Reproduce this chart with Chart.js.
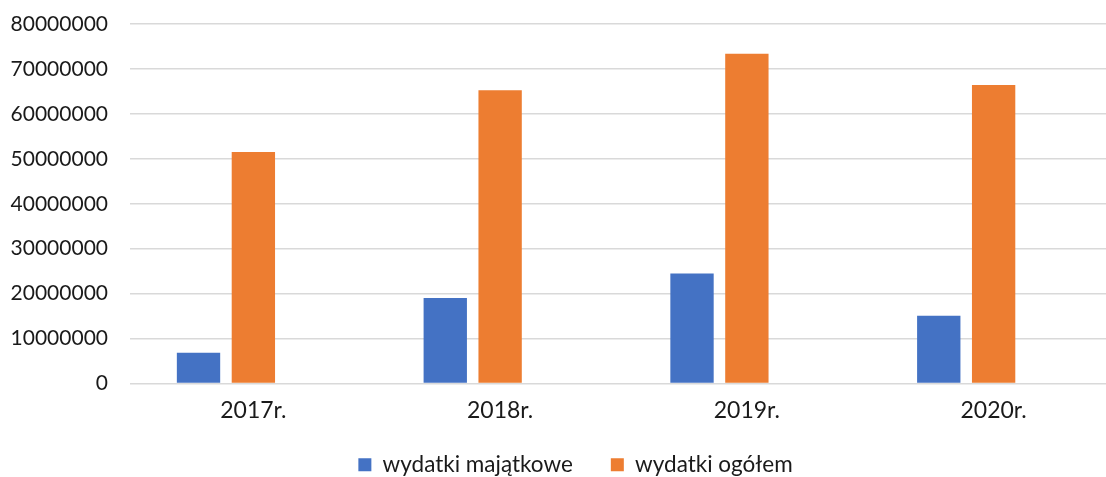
<!DOCTYPE html>
<html>
<head>
<meta charset="utf-8">
<script src="https://cdn.jsdelivr.net/npm/chart.js@4/dist/chart.umd.min.js"></script>
<style>
  html, body { margin: 0; padding: 0; background: #fff; overflow: hidden; }
  #wrap { width: 1106px; height: 477px; overflow: hidden; }
</style>
</head>
<body>
<div id="wrap"><canvas id="bar-chart" width="1117" height="495"></canvas></div>
<script>
// values
var years = ['2017r.', '2018r.', '2019r.', '2020r.'];
var majatkowe = [6850000, 19000000, 24500000, 15100000];
var ogolem = [51500000, 65250000, 73400000, 66400000];
var yTicks = [0, 10000000, 20000000, 30000000, 40000000, 50000000, 60000000, 70000000, 80000000];

var tickFont = { family: 'Lato', size: 21 };
var textFont = { family: 'Lato', size: 23 };
var legendFont = { family: 'Lato', size: 22.5 };

// the original chart was cropped on the right, so its legend sits a bit right of centre
var legendNudge = {
    id: 'legendNudge',
    afterLayout: function (chart) {
        var lg = chart.legend;
        lg.left += 17; lg.right += 17;
        lg.top -= 9; lg.bottom -= 9;
    }
};

new Chart(document.getElementById("bar-chart"), {
    type: 'bar',
    data: {
        labels: years,
        datasets: [{
            label: 'wydatki majątkowe',
            data: majatkowe,
            backgroundColor: "#4472c4"
        }, {
            label: 'wydatki ogółem',
            data: ogolem,
            backgroundColor: "#ed7d31"
        }, {
            // empty third series in the original sheet, keeps the bars off-centre
            label: '',
            data: years.map(function () { return null; }),
            backgroundColor: "#a5a5a5"
        }]
    },
    plugins: [legendNudge],
    options: {
        responsive: false,
        animation: false,
        layout: { padding: { top: 24, right: 0, left: 0, bottom: 0 } },
        datasets: {
            bar: { categoryPercentage: 0.667, barPercentage: 0.79 }
        },
        plugins: {
            tooltip: { enabled: false },
            legend: {
                position: 'bottom',
                labels: {
                    font: legendFont,
                    color: '#1a1a1a',
                    boxWidth: 13,
                    boxHeight: 13,
                    padding: 38,
                    filter: function (item) { return item.text !== ''; }
                }
            }
        },
        scales: {
            x: {
                grid: { display: false, drawTicks: false },
                border: { display: false },
                ticks: { font: textFont, color: '#1a1a1a', padding: 13 },
                afterFit: function (scale) { scale.height = 41; }
            },
            y: {
                min: 0,
                max: 80000000,
                afterBuildTicks: function (scale) {
                    scale.ticks = yTicks.map(function (v) { return { value: v }; });
                },
                afterFit: function (scale) {
                    scale.width = 130;
                    scale.paddingTop = 0;
                    scale.paddingBottom = 0;
                },
                grid: { color: '#d9d9d9', lineWidth: 1.5, drawTicks: false },
                border: { display: false },
                ticks: {
                    font: tickFont,
                    color: '#1a1a1a',
                    padding: 22,
                    callback: function (v) { return String(v); }
                }
            }
        }
    }
});
</script>
</body>
</html>
